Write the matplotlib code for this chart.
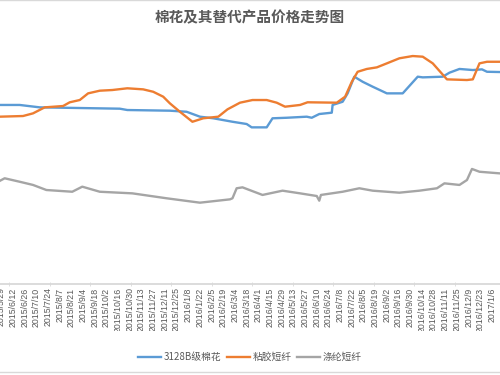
import matplotlib
matplotlib.use("Agg")
import matplotlib.pyplot as plt
import matplotlib.dates as mdates
from matplotlib.lines import Line2D
from matplotlib.patches import Rectangle
import pandas as pd

plt.rcParams['font.family'] = ['Noto Sans CJK SC', 'DejaVu Sans']

# --- data (yuan/ton, estimated) ---
cotton_dates = ['2015-05-27', '2015-06-20', '2015-07-14', '2015-10-18', '2015-10-27', '2015-12-17',
                '2016-01-06', '2016-01-22', '2016-02-07', '2016-03-01', '2016-03-18', '2016-03-24',
                '2016-04-11', '2016-04-18', '2016-05-05', '2016-05-29', '2016-06-04', '2016-06-13',
                '2016-06-28', '2016-06-29', '2016-07-11', '2016-07-17', '2016-07-25', '2016-08-04',
                '2016-08-16', '2016-09-02', '2016-09-21', '2016-10-09', '2016-10-15', '2016-11-08',
                '2016-11-16', '2016-11-28', '2016-12-14', '2016-12-25', '2016-12-31', '2017-01-15']
cotton = [13430, 13430, 13250, 13150, 13050, 13000, 12920, 12550, 12430, 12170, 12000, 11750,
          11750, 12430, 12470, 12550, 12470, 12750, 12850, 13430, 13670, 14300, 15550, 15170,
          14800, 14300, 14300, 15550, 15500, 15550, 15850, 16130, 16050, 16100, 15920, 15900]

viscose_dates = ['2015-05-27', '2015-06-24', '2015-07-06', '2015-07-20', '2015-08-11', '2015-08-19',
                 '2015-08-31', '2015-09-10', '2015-09-24', '2015-10-09', '2015-10-27', '2015-11-15',
                 '2015-11-27', '2015-12-09', '2015-12-17', '2015-12-29', '2016-01-13', '2016-01-26',
                 '2016-02-13', '2016-02-24', '2016-03-10', '2016-03-25', '2016-04-11', '2016-04-23',
                 '2016-05-03', '2016-05-21', '2016-05-30', '2016-07-04', '2016-07-14', '2016-07-22',
                 '2016-07-29', '2016-08-09', '2016-08-21', '2016-09-02', '2016-09-17', '2016-10-03',
                 '2016-10-15', '2016-10-27', '2016-11-13', '2016-12-07', '2016-12-14', '2016-12-22',
                 '2016-12-31', '2017-01-15']
viscose = [12550, 12600, 12800, 13250, 13350, 13630, 13800, 14300, 14500, 14550, 14680, 14600,
           14420, 14050, 13550, 12920, 12170, 12430, 12550, 13100, 13600, 13800, 13800, 13600,
           13300, 13430, 13630, 13600, 14050, 15170, 15920, 16130, 16250, 16550, 16930, 17100,
           17050, 16550, 15350, 15300, 15350, 16550, 16670, 16670]

polyester_dates = ['2015-05-27', '2015-06-02', '2015-06-20', '2015-07-06', '2015-07-22', '2015-08-22',
                   '2015-09-03', '2015-09-24', '2015-11-02', '2015-12-13', '2016-01-22', '2016-02-27',
                   '2016-03-01', '2016-03-06', '2016-03-13', '2016-04-06', '2016-04-30', '2016-05-21',
                   '2016-06-10', '2016-06-13', '2016-06-15', '2016-07-11', '2016-07-31', '2016-08-16',
                   '2016-09-17', '2016-10-11', '2016-11-01', '2016-11-10', '2016-11-28', '2016-12-07',
                   '2016-12-13', '2016-12-22', '2017-01-15']
polyester = [7730, 7930, 7670, 7430, 7050, 6920, 7300, 6920, 6800, 6430, 6100, 6350,
             6430, 7180, 7250, 6680, 7000, 6800, 6600, 6250, 6680, 6920, 7180, 7000,
             6850, 7000, 7180, 7550, 7430, 7800, 8630, 8420, 8300]

series_names = ['3128B级棉花', '粘胶短纤', '涤纶短纤']
colors = ['#5B9BD5', '#ED7D31', '#A5A5A5']

# labels every two weeks, first one is cut by the left edge like in the original
tick_dates = pd.date_range('2015-05-29', '2017-01-06', freq='14D')

# --- plot ---
fig = plt.figure(figsize=(5, 3.75), dpi=100)
ax = fig.add_axes([0, 91 / 375, 1, 253.3 / 375])

for d, v, c in zip([cotton_dates, viscose_dates, polyester_dates],
                   [cotton, viscose, polyester], colors):
    ax.plot(pd.to_datetime(d), v, color=c, lw=1.7, solid_joinstyle='round')

base = pd.Timestamp('2015-06-12')
px_per_day = 0.8345
ax.set_xlim(base + pd.Timedelta(days=-13 / px_per_day), base + pd.Timedelta(days=487 / px_per_day))
ax.set_ylim(0, 19000)

for s in ['top', 'left', 'right']:
    ax.spines[s].set_visible(False)
ax.spines['bottom'].set_color('#d9d9d9')
ax.spines['bottom'].set_linewidth(1.3)
ax.set_yticks([])

ax.set_xticks(mdates.date2num(tick_dates))
ax.set_xticklabels([f"{t.year}/{t.month}/{t.day}" for t in tick_dates],
                   rotation=90, fontsize=6.3, color='#595959', family=['Liberation Sans', 'DejaVu Sans'])
ax.tick_params(axis='x', length=0, pad=2.5)

minor_start = pd.Timestamp('2015-06-07 19:00')
minor_ticks = [minor_start + pd.Timedelta(days=48.5 * k) for k in range(12)]
ax.set_xticks(mdates.date2num(minor_ticks), minor=True)
ax.tick_params(axis='x', which='minor', length=3, direction='inout', color='#d9d9d9')

# cut long rotated labels like the original
fig.patches.append(Rectangle((0, 0), 1, 1 - 331 / 375, transform=fig.transFigure,
                             facecolor='white', edgecolor='none', zorder=5))

fig.text(0.5, 1 - 17 / 375, '棉花及其替代产品价格走势图', ha='center', va='center',
         fontsize=10.5, color='#595959', weight='bold')

handles = [Line2D([0], [0], color=c, lw=1.7) for c in colors]
leg = fig.legend(handles, series_names, loc='center', bbox_to_anchor=(0.5, 1 - 357 / 375),
                 ncol=3, frameon=False, fontsize=7, handlelength=2.3, handletextpad=0.3,
                 columnspacing=0.6)
leg.set_zorder(10)
for t in leg.get_texts():
    t.set_color('#595959')

# chart border lines top and bottom
fig.add_artist(Line2D([0, 1], [0.999, 0.999], transform=fig.transFigure, color='#d9d9d9', lw=1, zorder=10))
fig.add_artist(Line2D([0, 1], [1 - 372 / 375] * 2, transform=fig.transFigure, color='#d9d9d9', lw=1, zorder=10))

fig.savefig('out.png', dpi=100)
